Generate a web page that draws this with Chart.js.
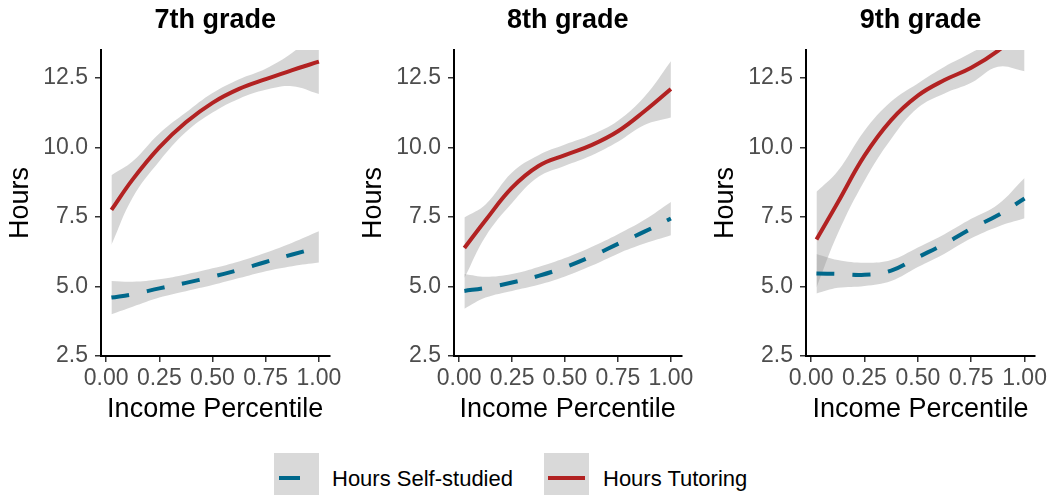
<!DOCTYPE html>
<html>
<head>
<meta charset="utf-8">
<script src="https://cdn.jsdelivr.net/npm/chart.js@4.4.1/dist/chart.umd.min.js"></script>
<style>
  body { margin: 0; background: #fff; font-family: "Liberation Sans", Arial, sans-serif; }
  #wrap { position: relative; width: 1052px; height: 495px; overflow: hidden; }
  .panel { position: absolute; top: 0; }
  .key { position: absolute; top: 453px; width: 45px; height: 45px; background: #d9d9d9; }
  .key i { position: absolute; top: 23px; height: 4px; }
  .lab { position: absolute; top: 466px; font-size: 22px; line-height: 26px; color: #000; white-space: nowrap; }
</style>
</head>
<body>
<div id="wrap">
  <canvas id="g7" class="panel" width="345" height="440" style="left:0px"></canvas>
  <canvas id="g8" class="panel" width="344" height="440" style="left:353px"></canvas>
  <canvas id="g9" class="panel" width="347" height="440" style="left:705px"></canvas>
  <div id="legend"></div>
</div>
<script>
// --- dados ---
const pctl = [0.025, 0.125, 0.25, 0.375, 0.5, 0.625, 0.75, 0.875, 1.0];
const xTicks = [0, 0.25, 0.5, 0.75, 1.0];
const yTicks = [2.5, 5.0, 7.5, 10.0, 12.5];
const grades = ['7th grade', '8th grade', '9th grade'];
const seriesNames = ['Hours Self-studied', 'Hours Tutoring'];

// 7th grade
const self7   = [4.60, 4.72, 4.93, 5.13, 5.35, 5.60, 5.88, 6.15, 6.41];
const self7Hi = [5.20, 5.17, 5.26, 5.43, 5.65, 5.90, 6.21, 6.57, 6.98];
const self7Lo = [4.00, 4.27, 4.60, 4.83, 5.05, 5.30, 5.55, 5.73, 5.86];
const tut7    = [7.75, 8.85, 10.00, 10.90, 11.60, 12.10, 12.45, 12.78, 13.08];
const tut7Hi  = [9.00, 9.50, 10.50, 11.25, 11.95, 12.45, 12.83, 13.40, 14.24];
const tut7Lo  = [6.50, 8.20, 9.50, 10.55, 11.25, 11.75, 12.07, 12.20, 11.92];

// 8th grade
const self8   = [4.84, 4.95, 5.14, 5.38, 5.69, 6.08, 6.53, 6.97, 7.44];
const self8Hi = [5.45, 5.35, 5.45, 5.70, 6.02, 6.42, 6.88, 7.40, 8.04];
const self8Lo = [4.20, 4.60, 4.84, 5.06, 5.36, 5.74, 6.18, 6.54, 6.84];
const tut8    = [6.38, 7.38, 8.55, 9.33, 9.72, 10.08, 10.58, 11.30, 12.10];
const tut8Hi  = [7.48, 7.95, 9.10, 9.72, 10.10, 10.45, 10.96, 11.82, 13.10];
const tut8Lo  = [5.30, 6.80, 8.00, 8.94, 9.34, 9.71, 10.20, 10.80, 11.07];

// 9th grade
const self9   = [5.47, 5.45, 5.42, 5.57, 6.05, 6.53, 7.08, 7.56, 8.16];
const self9Hi = [6.17, 5.95, 5.85, 5.95, 6.40, 6.88, 7.43, 7.95, 8.90];
const self9Lo = [4.75, 4.95, 5.02, 5.20, 5.70, 6.18, 6.73, 7.15, 7.45];
const tut9    = [6.69, 8.02, 9.70, 10.98, 11.86, 12.42, 12.86, 13.47, 14.30];
const tut9Hi  = [8.40, 9.15, 10.60, 11.65, 12.30, 12.90, 13.40, 14.00, 15.80];
const tut9Lo  = [4.96, 6.90, 8.80, 10.30, 11.42, 11.94, 12.32, 12.90, 12.74];

const BLUE = '#00688b';
const RED = '#b22222';
const BAND = 'rgba(153,153,153,0.4)';
const FONT = '"Liberation Sans", Arial, sans-serif';

const pts = arr => pctl.map((x, i) => ({ x: x, y: arr[i] }));

function bandSet(arr, fill) {
    return { data: pts(arr), borderWidth: 0, pointRadius: 0, backgroundColor: BAND,
             fill: fill, tension: 0.4 };
}

function makePanel(id, title, self, selfHi, selfLo, tut, tutHi, tutLo, padRight) {
    const ctx = document.getElementById(id).getContext('2d');
    new Chart(ctx, {
        type: 'line',
        data: {
            datasets: [
                { data: pts(tut), borderColor: RED, borderWidth: 4, pointRadius: 0, fill: false,
                  tension: 0.4 },
                { data: pts(self), borderColor: BLUE, borderWidth: 4, pointRadius: 0, fill: false,
                  borderDash: [18, 18], borderCapStyle: 'butt', tension: 0.4 },
                bandSet(tutHi, false),
                bandSet(tutLo, '-1'),
                bandSet(selfHi, false),
                bandSet(selfLo, '-1')
            ]
        },
        options: {
            responsive: false,
            animation: false,
            layout: { padding: { left: 0, right: padRight, top: 0, bottom: 0 } },
            plugins: {
                legend: { display: false },
                tooltip: { enabled: false },
                title: {
                    display: true, text: title, fullSize: false, color: '#000',
                    font: { family: FONT, size: 27, weight: 'bold' },
                    padding: { top: 4, bottom: 13.6 }
                }
            },
            scales: {
                x: {
                    type: 'linear', min: -0.024, max: 1.049,
                    afterBuildTicks: s => { s.ticks = xTicks.map(v => ({ value: v })); },
                    afterFit: s => { s.height = 84; },
                    ticks: { callback: v => v.toFixed(2), color: '#4d4d4d', autoSkip: false, maxRotation: 0,
                             font: { family: FONT, size: 23 }, padding: 3 },
                    grid: { drawOnChartArea: false, drawTicks: true, tickLength: 6, color: '#333', lineWidth: 1.5 },
                    border: { display: true, color: '#000', width: 2 },
                    title: { display: true, text: 'Income Percentile', color: '#000',
                             font: { family: FONT, size: 27 }, padding: { top: 0, bottom: 14 } }
                },
                y: {
                    min: 2.5, max: 13.5,
                    afterBuildTicks: s => { s.ticks = yTicks.map(v => ({ value: v })); },
                    afterFit: s => { s.width = 101; },
                    ticks: { callback: v => v.toFixed(1), color: '#4d4d4d',
                             font: { family: FONT, size: 23 }, padding: 7 },
                    grid: { drawOnChartArea: false, drawTicks: true, tickLength: 6, color: '#333', lineWidth: 1.5 },
                    border: { display: true, color: '#000', width: 2 },
                    title: { display: true, text: 'Hours', color: '#000',
                             font: { family: FONT, size: 27 }, padding: { top: 4, bottom: 0 } }
                }
            }
        }
    });
}

makePanel('g7', grades[0], self7, self7Hi, self7Lo, tut7, tut7Hi, tut7Lo, 13);
makePanel('g8', grades[1], self8, self8Hi, self8Lo, tut8, tut8Hi, tut8Lo, 14);
makePanel('g9', grades[2], self9, self9Hi, self9Lo, tut9, tut9Hi, tut9Lo, 17);

// legenda em HTML
const legend = document.getElementById('legend');
const keyLeft = [274, 544];
const labLeft = [332, 603];
const keyLine = [
    'left:5px;width:21px;background:' + BLUE,
    'left:4px;width:37px;background:' + RED
];
seriesNames.forEach((name, i) => {
    const key = document.createElement('div');
    key.className = 'key';
    key.style.left = keyLeft[i] + 'px';
    key.innerHTML = '<i style="' + keyLine[i] + '"></i>';
    legend.appendChild(key);
    const lab = document.createElement('span');
    lab.className = 'lab';
    lab.style.left = labLeft[i] + 'px';
    lab.textContent = name;
    legend.appendChild(lab);
});
</script>
</body>
</html>
